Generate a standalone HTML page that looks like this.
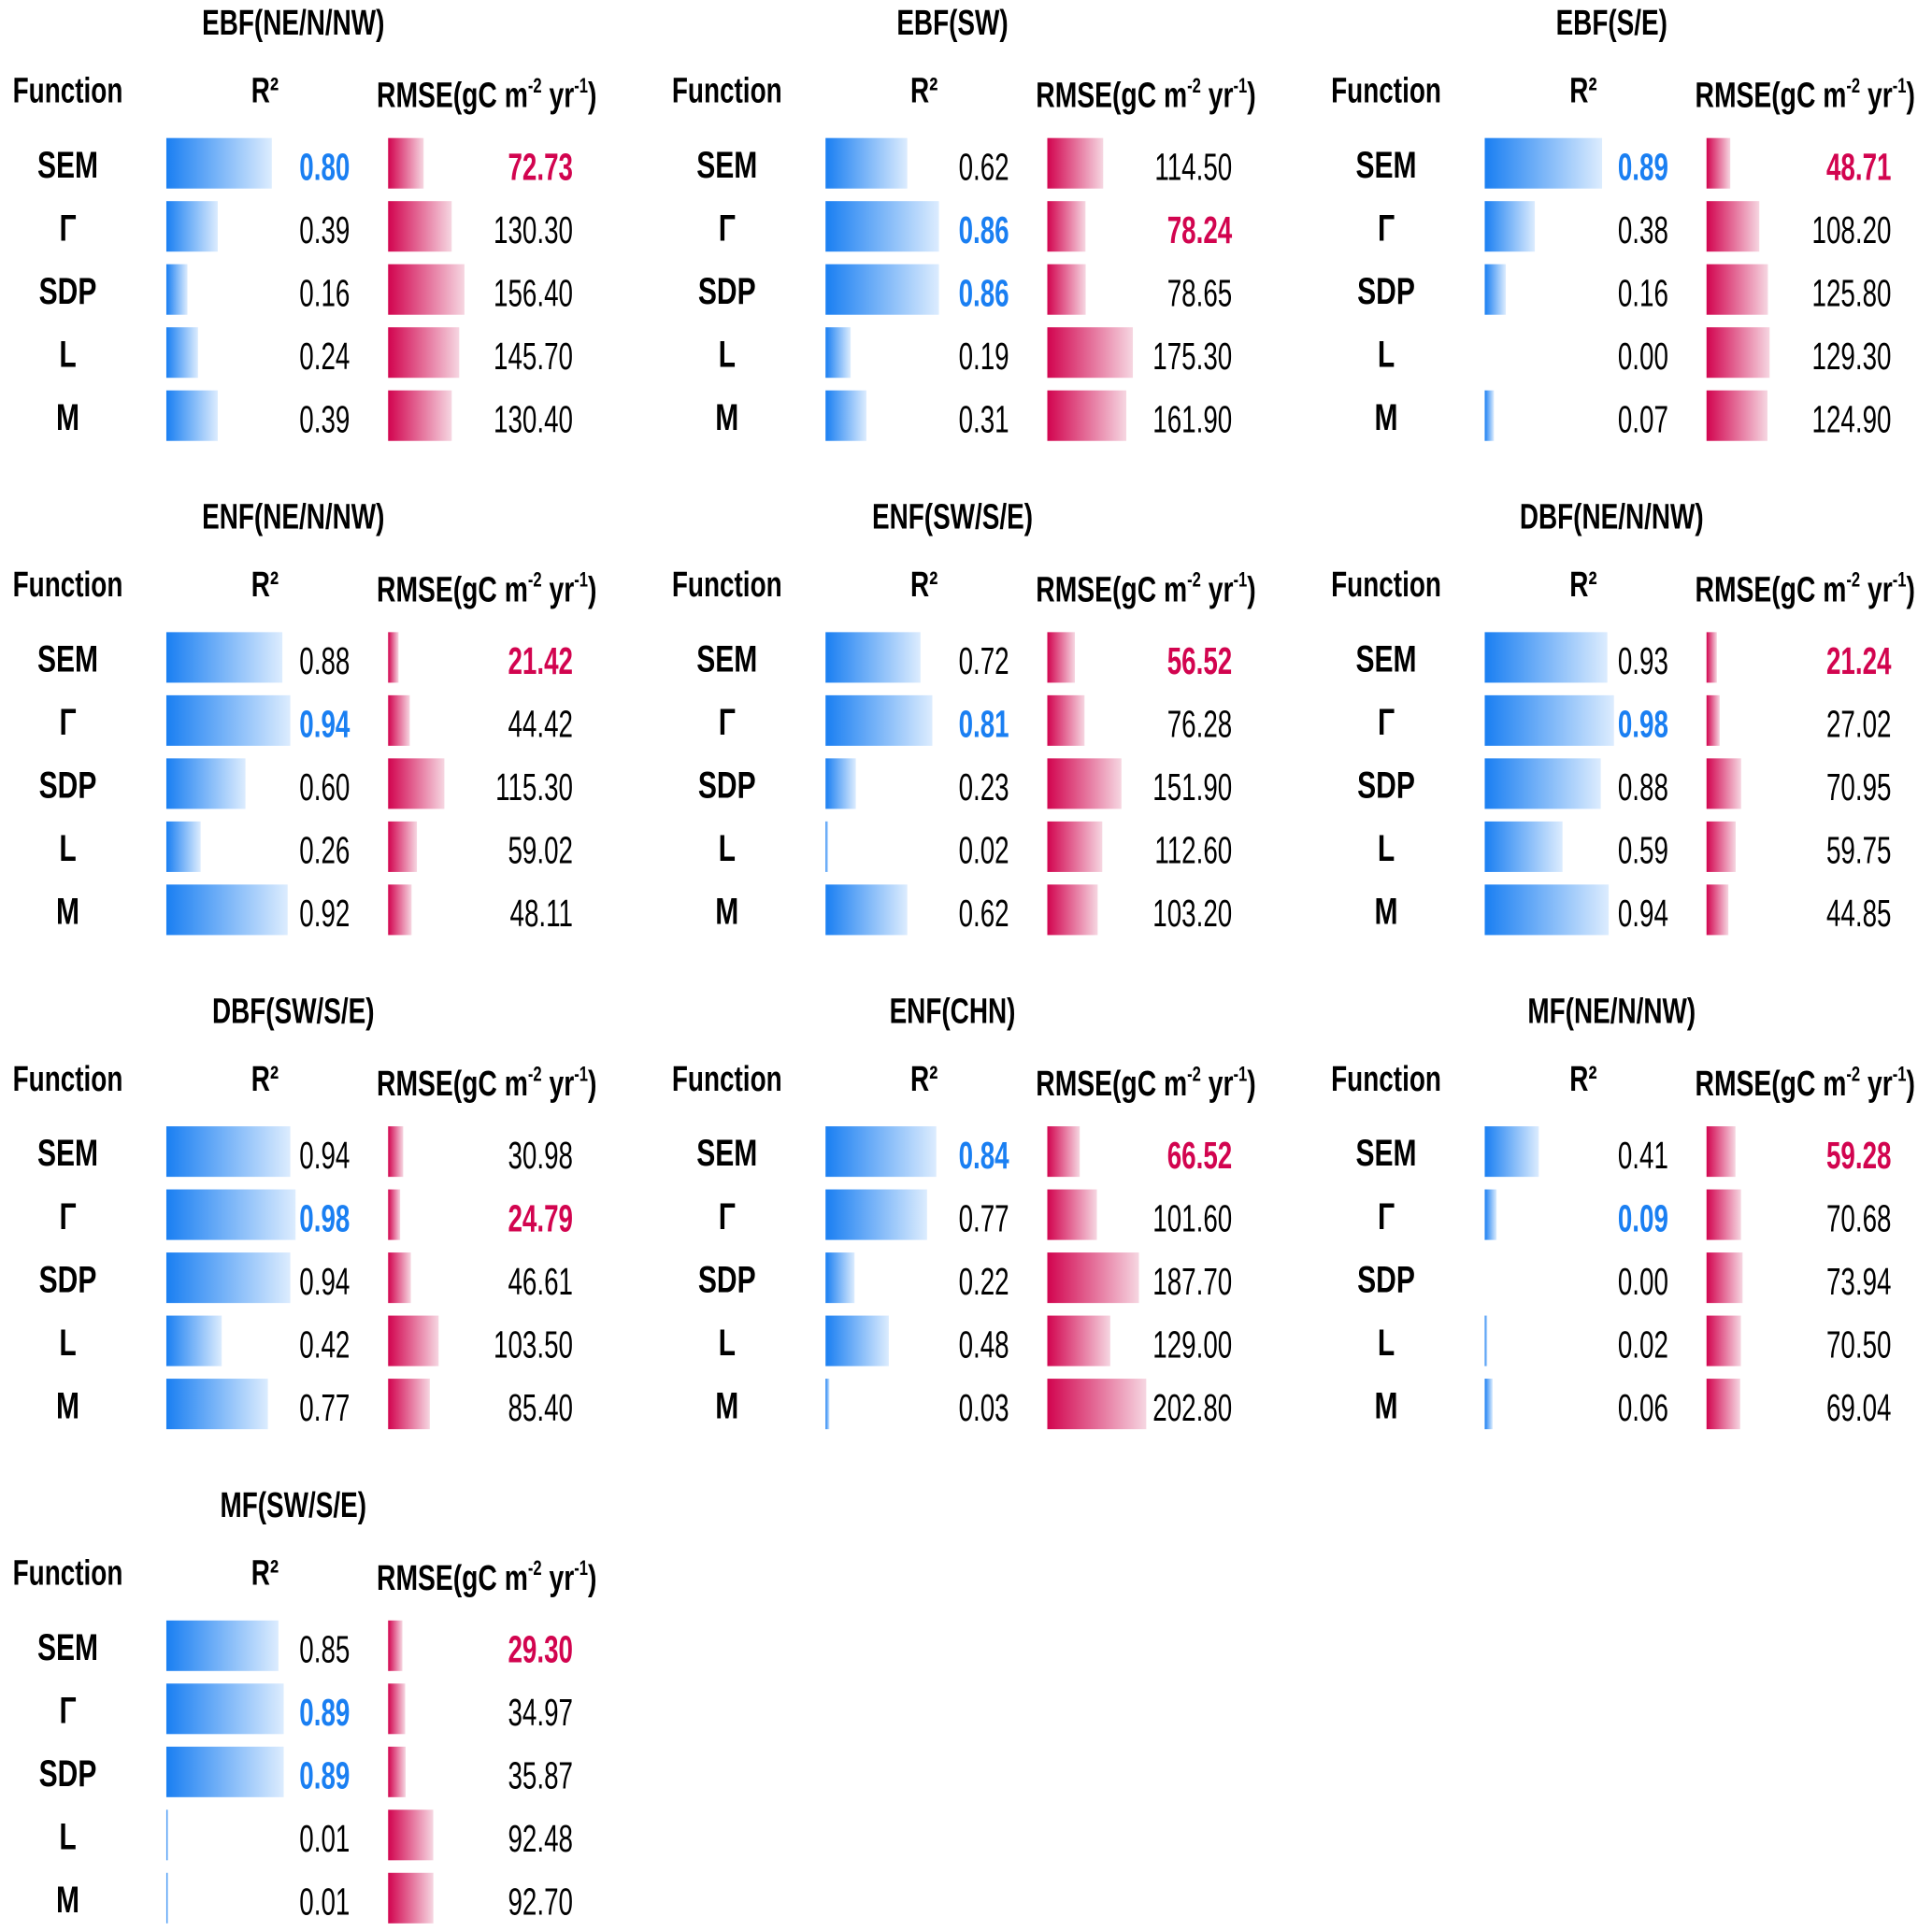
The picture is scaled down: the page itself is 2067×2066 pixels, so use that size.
<!DOCTYPE html>
<html><head><meta charset="utf-8"><style>
html,body{margin:0;padding:0;background:#fff;}
svg{display:block;}
text{font-family:"Liberation Sans",sans-serif;}
</style></head><body>
<svg id="chart" width="2067" height="2066" viewBox="0 0 1568 1567" preserveAspectRatio="none" xmlns="http://www.w3.org/2000/svg">
<defs>
<linearGradient id="gBlue" x1="0" y1="0" x2="1" y2="0"><stop offset="0" stop-color="#1a7ff2"/><stop offset="1" stop-color="#dcecfe"/></linearGradient>
<linearGradient id="gRed" x1="0" y1="0" x2="1" y2="0"><stop offset="0" stop-color="#d2044f"/><stop offset="1" stop-color="#f6d6e1"/></linearGradient>
</defs>
</svg>
<script>
const titles = ["EBF(NE/N/NW)","EBF(SW)","EBF(S/E)","ENF(NE/N/NW)","ENF(SW/S/E)","DBF(NE/N/NW)","DBF(SW/S/E)","ENF(CHN)","MF(NE/N/NW)","MF(SW/S/E)"];
const functions = ["SEM","Γ","SDP","L","M"];
const r2Values = [
 [0.80,0.39,0.16,0.24,0.39],
 [0.62,0.86,0.86,0.19,0.31],
 [0.89,0.38,0.16,0.00,0.07],
 [0.88,0.94,0.60,0.26,0.92],
 [0.72,0.81,0.23,0.02,0.62],
 [0.93,0.98,0.88,0.59,0.94],
 [0.94,0.98,0.94,0.42,0.77],
 [0.84,0.77,0.22,0.48,0.03],
 [0.41,0.09,0.00,0.02,0.06],
 [0.85,0.89,0.89,0.01,0.01]
];
const rmseValues = [
 [72.73,130.30,156.40,145.70,130.40],
 [114.50,78.24,78.65,175.30,161.90],
 [48.71,108.20,125.80,129.30,124.90],
 [21.42,44.42,115.30,59.02,48.11],
 [56.52,76.28,151.90,112.60,103.20],
 [21.24,27.02,70.95,59.75,44.85],
 [30.98,24.79,46.61,103.50,85.40],
 [66.52,101.60,187.70,129.00,202.80],
 [59.28,70.68,73.94,70.50,69.04],
 [29.30,34.97,35.87,92.48,92.70]
];
const bestR2 = [[0],[1,2],[0],[1],[1],[1],[1],[0],[1],[1,2]];
const bestRMSE = [[0],[1],[0],[0],[0],[0],[1],[0],[0],[0]];

const svg = document.getElementById('chart');
const NS = 'http://www.w3.org/2000/svg';
const xR2 = v => v * 107;
const xRMSE = v => v * 0.396;

function txt(parent, str, x, y, size, weight, color, anchor, sx) {
  const g = document.createElementNS(NS, 'g');
  g.setAttribute('transform', `translate(${x},${y}) scale(${sx},1)`);
  const t = document.createElementNS(NS, 'text');
  t.setAttribute('font-size', size);
  t.setAttribute('font-weight', weight);
  t.setAttribute('fill', color);
  t.setAttribute('text-anchor', anchor);
  t.textContent = str;
  g.appendChild(t);
  parent.appendChild(g);
  return t;
}

titles.forEach((title, p) => {
  const ox = (p % 3) * 535, oy = Math.floor(p / 3) * 401;
  const panel = document.createElementNS(NS, 'g');
  panel.setAttribute('transform', `translate(${ox},${oy})`);
  
  
  svg.appendChild(panel);

  let t = txt(panel, title, 238, 28, 29, 'bold', '#000', 'middle', 0.73);
  
  
  t = txt(panel, 'Function', 55, 83, 29, 'bold', '#000', 'middle', 0.73);
  
  
  t = txt(panel, 'R²', 215, 83, 29, 'bold', '#000', 'middle', 0.73);
  
  
  const g = document.createElementNS(NS, 'g');
  g.setAttribute('transform', `translate(395,87) scale(0.74,1)`);
  const rt = document.createElementNS(NS, 'text');
  rt.setAttribute('font-size', 29); rt.setAttribute('font-weight', 'bold'); rt.setAttribute('text-anchor', 'middle');
  rt.innerHTML = 'RMSE(gC m<tspan dy="-12" font-size="17">-2</tspan><tspan dy="12"> yr</tspan><tspan dy="-12" font-size="17">-1</tspan><tspan dy="12">)</tspan>';
  
  
  g.appendChild(rt); panel.appendChild(g);

  functions.forEach((fn, i) => {
    const top = 112 + i * 51.2;
    t = txt(panel, fn, 55, top + 32, 30, 'bold', '#000', 'middle', 0.76);
    
    

    const r2 = r2Values[p][i];
    if (r2 > 0) {
      const b = document.createElementNS(NS, 'rect');
      b.setAttribute('x', 135); b.setAttribute('y', top);
      b.setAttribute('width', Math.max(xR2(r2), 1.5)); b.setAttribute('height', 41);
      b.setAttribute('fill', 'url(#gBlue)');
      
      
      panel.appendChild(b);
    }
    const hiR = bestR2[p].includes(i);
    t = txt(panel, r2.toFixed(2), 284, top + 34, 31, hiR ? 'bold' : 'normal', hiR ? '#1a7ff2' : '#000', 'end', 0.68);
    
    

    const rm = rmseValues[p][i];
    const rb = document.createElementNS(NS, 'rect');
    rb.setAttribute('x', 315); rb.setAttribute('y', top);
    rb.setAttribute('width', xRMSE(rm)); rb.setAttribute('height', 41);
    rb.setAttribute('fill', 'url(#gRed)');
    
    
    panel.appendChild(rb);
    const hiE = bestRMSE[p].includes(i);
    t = txt(panel, rm.toFixed(2), 465, top + 34, 31, hiE ? 'bold' : 'normal', hiE ? '#d2044f' : '#000', 'end', 0.68);
    
    
  });
});
</script>
</body></html>
